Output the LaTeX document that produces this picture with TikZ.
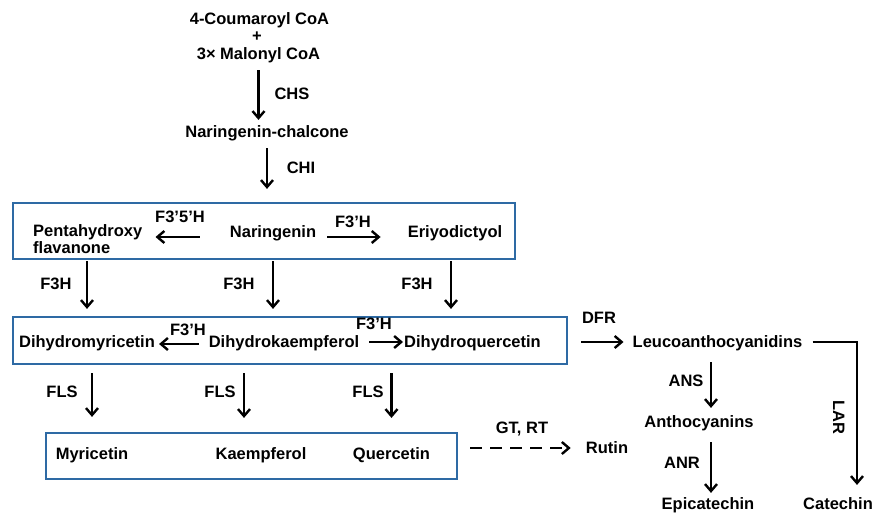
\documentclass[tikz,border=0pt]{standalone}
\usepackage{fontspec}
\setmainfont{Liberation Sans}
\usetikzlibrary{arrows.meta}
\definecolor{boxblue}{RGB}{46,106,164}
\begin{document}
\begin{tikzpicture}[x=1pt,y=-1pt,
  lbl/.style={font=\fontsize{16.5}{16.5}\selectfont\bfseries, inner sep=0pt, text height=11.8pt, text depth=0pt},
  multi/.style={font=\fontsize{16.5}{16.5}\selectfont\bfseries, inner sep=0pt, align=left},
  grp/.style={draw=boxblue, line width=2.2pt, inner sep=0pt},
  arr/.style={line width=2.4pt, -{Straight Barb[length=7pt,width=12pt]}},
  dasharr/.style={arr, dash pattern=on 12pt off 8pt},
]
\useasboundingbox (0,0) rectangle (875,513);

% groups
\node[grp, minimum width=502pt, minimum height=56pt] (box1) at (264,231) {};
\node[grp, minimum width=554pt, minimum height=47pt] (box2) at (290,340.5) {};
\node[grp, minimum width=411pt, minimum height=46pt] (box3) at (251.5,456) {};

% top
\node[lbl] (coum) at (259.5,19) {4-Coumaroyl CoA};
\node[lbl] (plus) at (257,36) {+};
\node[lbl] (mal) at (258.5,54) {3× Malonyl CoA};
\node[lbl] (narch) at (267,132) {Naringenin-chalcone};

% box 1
\node[multi, anchor=west] (penta) at (33,239) {Pentahydroxy\\flavanone};
\node[lbl] (nar) at (273,232) {Naringenin};
\node[lbl] (eriy) at (455,232) {Eriyodictyol};

% box 2
\node[lbl] (dhm) at (87,342) {Dihydromyricetin};
\node[lbl] (dhk) at (284,342) {Dihydrokaempferol};
\node[lbl] (dhq) at (472.5,342) {Dihydroquercetin};

% box 3
\node[lbl] (myr) at (92,454) {Myricetin};
\node[lbl] (kae) at (261,454) {Kaempferol};
\node[lbl] (que) at (391.5,454) {Quercetin};

% right side
\node[lbl] (rutin) at (607,448) {Rutin};
\node[lbl] (leuco) at (717.5,342) {Leucoanthocyanidins};
\node[lbl] (antho) at (699,422) {Anthocyanins};
\node[lbl] (epi) at (708,504) {Epicatechin};
\node[lbl] (cat) at (838,504) {Catechin};

% enzyme labels
\node[lbl] (chs) at (292,94) {CHS};
\node[lbl] (chi) at (301,168) {CHI};
\node[lbl] (f355h) at (180,217) {F3’5’H};
\node[lbl] (f3ha) at (353,222) {F3’H};
\node[lbl] (f3h1) at (56,284) {F3H};
\node[lbl] (f3h2) at (239,284) {F3H};
\node[lbl] (f3h3) at (417,284) {F3H};
\node[lbl] (f3hb) at (188,330) {F3’H};
\node[lbl] (f3hc) at (374,324) {F3’H};
\node[lbl] (fls1) at (62,392) {FLS};
\node[lbl] (fls2) at (220,392) {FLS};
\node[lbl] (fls3) at (368,392) {FLS};
\node[lbl] (gtrt) at (522,428) {GT, RT};
\node[lbl] (dfr) at (599,318) {DFR};
\node[lbl] (ans) at (686,381) {ANS};
\node[lbl] (anr) at (682,463) {ANR};
\node[lbl, rotate=-90] (lar) at (839,417) {LAR};

% column helpers
\coordinate (kcol) at (244,0);
\coordinate (acol) at (711,0);
\coordinate (larx) at (857,0);

% connectors
\draw[arr, shorten <=10pt, shorten >=6pt] (mal.south) -- (mal.south |- narch.north);
\draw[arr, shorten <=10pt, shorten >=13pt] (narch.south) -- (narch.south |- box1.north);

\draw[arr, shorten <=30pt, shorten >=13pt] ([yshift=-5pt]nar.west) -- ([yshift=-5pt]nar.west -| penta.east);
\draw[arr, shorten <=11pt, shorten >=27pt] ([yshift=-5pt]nar.east) -- ([yshift=-5pt]nar.east -| eriy.west);

\draw[arr, shorten <=1pt, shorten >=7pt] (box1.south -| dhm) -- (box2.north -| dhm);
\draw[arr, shorten <=1pt, shorten >=7pt] (box1.south -| nar) -- (box2.north -| nar);
\draw[arr, shorten <=1pt, shorten >=7pt] ([xshift=-4pt]box1.south -| eriy) -- ([xshift=-4pt]box2.north -| eriy);

\draw[arr, shorten <=10pt, shorten >=4pt] ([yshift=-2pt]dhk.west) -- ([yshift=-2pt]dhk.west -| dhm.east);
\draw[arr, shorten <=10pt, shorten >=1pt] (dhk.east) -- (dhk.east -| dhq.west);

\draw[arr, shorten <=8pt, shorten >=15pt] (box2.south -| myr) -- (box3.north -| myr);
\draw[arr, shorten <=8pt, shorten >=14pt] (box2.south -| kcol) -- (box3.north -| kcol);
\draw[arr, shorten <=8pt, shorten >=14pt] (box2.south -| que) -- (box3.north -| que);

\draw[dasharr, shorten <=12pt, shorten >=15pt] (rutin.west -| box3.east) -- (rutin.west);
\draw[arr, shorten <=13pt, shorten >=9pt] (leuco.west -| box2.east) -- (leuco.west);

\draw[arr, shorten <=10pt, shorten >=13pt] (leuco.east) -| (larx |- cat.north);
\draw[arr, shorten <=14pt, shorten >=8pt] (leuco.south -| acol) -- (antho.north -| acol);
\draw[arr, shorten <=14pt, shorten >=5pt] (antho.south -| acol) -- (epi.north -| acol);
\end{tikzpicture}
\end{document}
